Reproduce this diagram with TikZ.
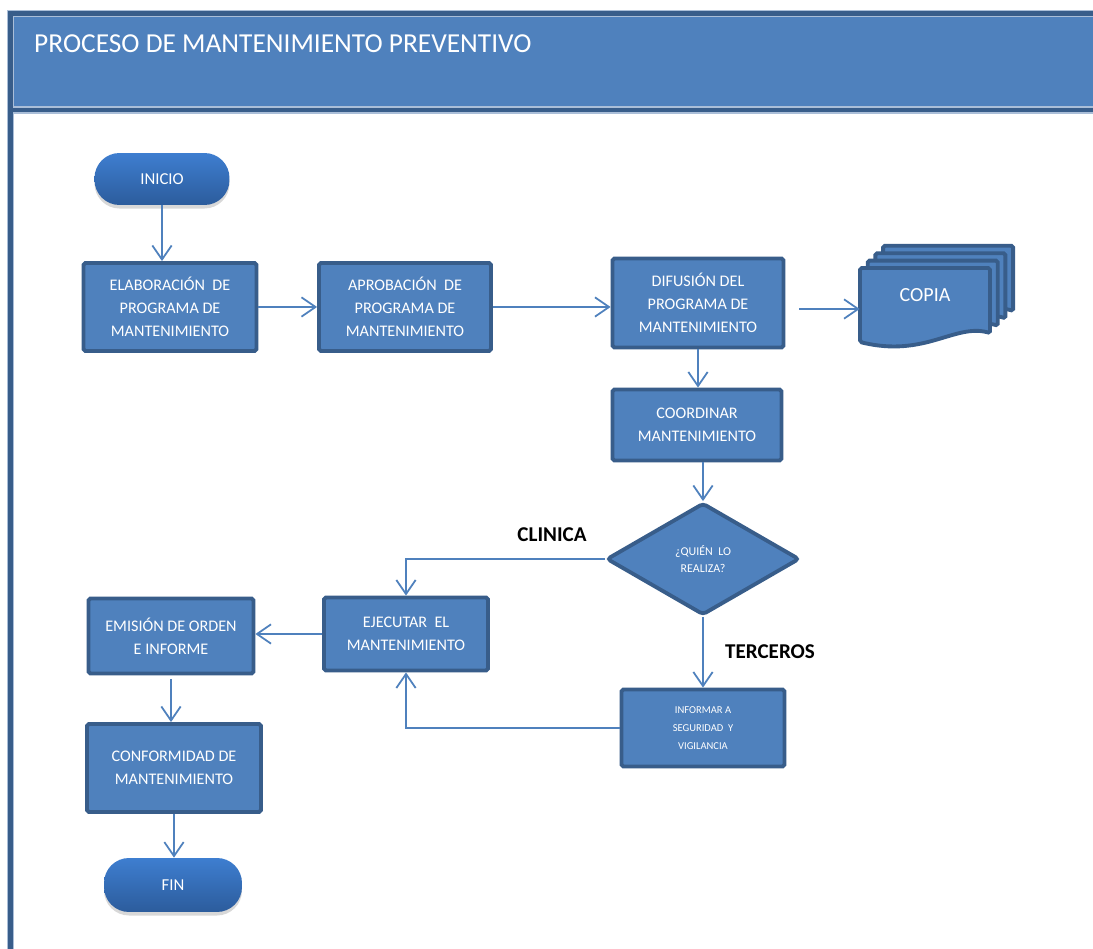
\documentclass[tikz,border=0pt]{standalone}
\usepackage{fontspec}
\setmainfont{Carlito}
\usetikzlibrary{shapes.geometric,arrows.meta,shadows}
\definecolor{azul}{RGB}{79,129,189}
\definecolor{azulosc}{RGB}{56,93,138}
\definecolor{azulclaro}{RGB}{170,190,216}
\definecolor{ovaloarr}{RGB}{62,126,208}
\definecolor{ovaloab}{RGB}{44,92,156}

\begin{document}
\begin{tikzpicture}[x=0.02cm,y=-0.02cm,>={Straight Barb[length=8pt,width=11pt]},
  caja/.style={rectangle,fill=azul,draw=azulosc,line width=2.2pt,rounded corners=1pt,
    text=white,align=center,font=\fontsize{9.2}{13}\selectfont},
  rombo/.style={diamond,fill=azul,draw=azulosc,line width=2.2pt,rounded corners=2pt,
    text=white,align=center,font=\fontsize{6.8}{10}\selectfont},
  ovalo/.style={rectangle,rounded corners=0.5cm,top color=ovaloarr,bottom color=ovaloab,
    text=white,font=\fontsize{9.5}{11}\selectfont,
    drop shadow={opacity=0.3,shadow xshift=0pt,shadow yshift=-2pt}},
  hoja/.style={fill=azul,draw=azulosc,line width=2.2pt,rounded corners=1pt},
  flecha/.style={->,draw=azul,line width=1pt},
  etiqueta/.style={font=\fontsize{12}{13}\bfseries\selectfont}]
  \useasboundingbox (0,0) rectangle (1093,949);
  \fill[white] (0,0) rectangle (1093,949);
  \fill[azul] (10.5,13.5) rectangle (1100,110);
  \draw[azulclaro,line width=4pt] (10.5,960) -- (10.5,13.5) -- (1100,13.5);
  \draw[azulclaro,line width=4pt] (10.5,110) -- (1100,110);
  \draw[azulosc,line width=2.8pt] (10.5,960) -- (10.5,13.5) -- (1100,13.5);
  \draw[azulosc,line width=2.8pt] (10.5,110) -- (1100,110);
  \node[anchor=west,text=white,font=\fontsize{15.6}{18}\selectfont] (titulo) at (28,44) {PROCESO DE MANTENIMIENTO PREVENTIVO};

  \node[ovalo,minimum width=2.7cm,minimum height=1.04cm] (inicio) at (162,179) {INICIO};
  \node[caja,minimum width=3.46cm,minimum height=1.76cm] (elab) at (170,307) {ELABORACIÓN~~DE\\PROGRAMA DE\\MANTENIMIENTO};
  \node[caja,minimum width=3.44cm,minimum height=1.76cm] (aprob) at (405,307) {APROBACIÓN~~DE\\PROGRAMA DE\\MANTENIMIENTO};
  \node[caja,minimum width=3.42cm,minimum height=1.78cm] (dif) at (698,303) {DIFUSIÓN DEL\\PROGRAMA DE\\MANTENIMIENTO};
  \node[caja,minimum width=3.38cm,minimum height=1.42cm] (coord) at (697,425) {COORDINAR\\MANTENIMIENTO};
  \node[rombo,minimum width=3.86cm,minimum height=2.24cm] (quien) at (703,559) {¿QUIÉN~~LO\\REALIZA?};
  \node[caja,minimum width=3.28cm,minimum height=1.46cm] (ejec) at (406,634) {EJECUTAR~~EL\\MANTENIMIENTO};
  \node[caja,minimum width=3.30cm,minimum height=1.50cm] (emis) at (171,636) {EMISIÓN DE ORDEN\\E INFORME};
  \node[caja,minimum width=3.48cm,minimum height=1.76cm] (conf) at (174,768) {CONFORMIDAD DE\\MANTENIMIENTO};
  \node[caja,minimum width=3.26cm,minimum height=1.54cm,font=\fontsize{6}{10.4}\selectfont] (inform) at (703,728) {INFORMAR A\\SEGURIDAD~~Y\\VIGILANCIA};
  \node[ovalo,minimum width=2.76cm,minimum height=1.08cm] (fin) at (173,885) {FIN};

  \foreach \k in {3,2,1,0}
    \draw[hoja,shift={(7.7*\k,-7.4*\k)}] (860,268) -- (990,268) -- (990,333)
      .. controls (955,323) and (925,358) .. (860,342) -- cycle;
  \node[minimum width=2.6cm] (copia) at (925,309) {};
  \node[text=white,font=\fontsize{11.4}{13}\selectfont] (copiatxt) at (925,295) {COPIA};

  \node[etiqueta] (clinica) at (552,535) {CLINICA};
  \node[etiqueta] (terceros) at (770,652) {TERCEROS};

  \draw[flecha] (inicio.south) -- (inicio.south |- elab.north);
  \draw[flecha] (elab.east) -- (aprob.west);
  \draw[flecha] (aprob.east) -- (aprob.east -| dif.west);
  \draw[flecha,shorten <=8pt] (copia.west -| dif.east) -- (copia.west);
  \draw[flecha] (dif.south) -- (dif.south |- coord.north);
  \draw[flecha] (coord.south -| quien.north) -- (quien.north);
  \draw[flecha] (quien.west) -| (ejec.north);
  \draw[flecha] (quien.south) -- (inform.north);
  \draw[flecha] (inform.west) -| (ejec.south);
  \draw[flecha] (ejec.west) -- (ejec.west -| emis.east);
  \draw[flecha,shorten <=2pt] (emis.south) -- (emis.south |- conf.north);
  \draw[flecha] (conf.south) -- (conf.south |- fin.north);
\end{tikzpicture}
\end{document}
